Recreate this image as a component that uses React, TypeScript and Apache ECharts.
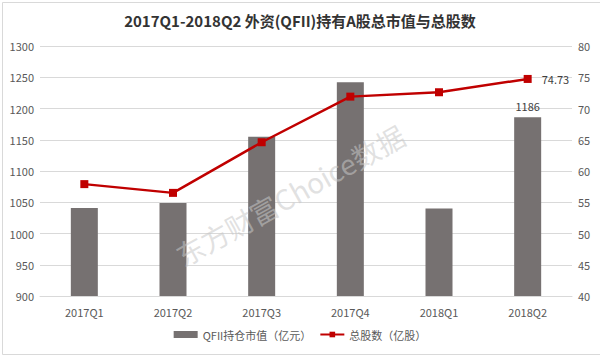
import React, { useEffect, useRef } from "react";
import * as echarts from "echarts";

const categories = ["2017Q1", "2017Q2", "2017Q3", "2017Q4", "2018Q1", "2018Q2"];
const marketValue = [1041, 1049, 1155, 1242, 1040, 1186];
const totalShares = [57.9, 56.5, 64.6, 71.9, 72.6, 74.73];
const leftTicks = { min: 900, max: 1300, interval: 50 };
const rightTicks = { min: 40, max: 80, interval: 5 };

const FONT = "'Noto Sans CJK SC', 'Noto Sans', sans-serif";

export default function App() {
  const ref = useRef<HTMLDivElement>(null);
  useEffect(() => {
    if (!ref.current) return;
    const chart = echarts.init(ref.current, undefined, { renderer: "svg" });
    const lastIdx = categories.length - 1;
    chart.setOption({
      animation: false,
      backgroundColor: "#ffffff",
      textStyle: { fontFamily: FONT },
      title: {
        text: "2017Q1-2018Q2 外资(QFII)持有A股总市值与总股数",
        left: "center",
        top: 8,
        textStyle: { fontSize: 15, fontWeight: "bold", color: "#333333", fontFamily: FONT },
      },
      graphic: [
        {
          type: "rect",
          left: 0,
          top: 0,
          shape: { x: 0.5, y: 0.5, width: 599, height: 352 },
          style: { fill: "none", stroke: "#d9d9d9", lineWidth: 1 },
          silent: true,
          z: 100,
        },
        {
          type: "text",
          x: 290,
          y: 195,
          rotation: Math.PI / 6.2,
          style: {
            text: "东方财富Choice数据",
            fontSize: 28,
            fontFamily: FONT,
            fill: "rgba(200,200,200,0.55)",
            align: "center",
            verticalAlign: "middle",
          },
          silent: true,
          z: 100,
        },
      ],
      grid: { left: 40, right: 28, top: 46, bottom: 59 },
      legend: {
        bottom: 10,
        left: "center",
        itemGap: 8,
        textStyle: { fontSize: 11, color: "#595959", fontFamily: FONT },
        data: [
          { name: "QFII持仓市值（亿元）", icon: "rect", itemStyle: { color: "#767171" } },
          { name: "总股数（亿股）" },
        ],
        itemWidth: 24,
        itemHeight: 7,
      },
      xAxis: {
        type: "category",
        data: categories,
        axisLine: { lineStyle: { color: "#d9d9d9" } },
        axisTick: { show: false },
        axisLabel: { color: "#595959", fontSize: 11, margin: 10 },
      },
      yAxis: [
        {
          type: "value",
          min: leftTicks.min,
          max: leftTicks.max,
          interval: leftTicks.interval,
          axisLine: { show: false },
          axisTick: { show: false },
          axisLabel: { color: "#595959", fontSize: 11, margin: 6, formatter: (v: number) => String(v) },
          splitLine: { lineStyle: { color: "#d9d9d9" } },
        },
        {
          type: "value",
          min: rightTicks.min,
          max: rightTicks.max,
          interval: rightTicks.interval,
          axisLine: { show: false },
          axisTick: { show: false },
          axisLabel: { color: "#595959", fontSize: 11, margin: 6, formatter: (v: number) => String(v) },
          splitLine: { show: false },
        },
      ],
      series: [
        {
          name: "QFII持仓市值（亿元）",
          type: "bar",
          yAxisIndex: 0,
          barWidth: 27,
          itemStyle: { color: "#767171" },
          data: marketValue.map((v, i) => ({
            value: v,
            label: {
              show: i === lastIdx,
              position: "top",
              distance: 6,
              color: "#404040",
              fontSize: 11,
            },
          })),
        },
        {
          name: "总股数（亿股）",
          type: "line",
          yAxisIndex: 1,
          symbol: "rect",
          symbolSize: 8,
          lineStyle: { color: "#C00000", width: 2.5 },
          itemStyle: { color: "#C00000" },
          data: totalShares.map((v, i) => ({
            value: v,
            label: {
              show: i === lastIdx,
              position: "right",
              distance: 10,
              color: "#404040",
              fontSize: 11,
            },
          })),
        },
      ],
    });
    return () => chart.dispose();
  }, []);
  return (
    <div
      ref={ref}
      style={{ position: "absolute", left: 0, top: 0, width: 600, height: 355 }}
    />
  );
}
